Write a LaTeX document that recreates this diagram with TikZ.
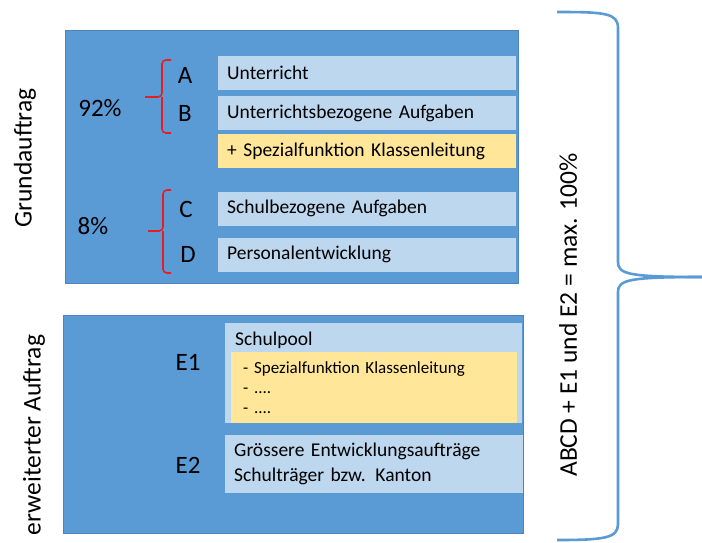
\documentclass[tikz,border=0pt]{standalone}
\usepackage{fontspec}
\setmainfont{Carlito}
\usetikzlibrary{positioning}
\definecolor{dblue}{RGB}{91,155,213}
\definecolor{dedge}{RGB}{80,130,190}
\definecolor{lblue}{RGB}{189,215,238}
\definecolor{ylw}{RGB}{255,230,153}
\definecolor{bred}{RGB}{230,30,35}
\newcommand{\fs}[1]{\fontsize{#1}{#1}\selectfont}

\begin{document}
\begin{tikzpicture}[x=1pt,y=-1pt,
  frame/.style={draw=dedge,fill=dblue,line width=0.6pt},
  item/.style={fill=lblue,anchor=west,minimum width=298,minimum height=34,
    text width=280,inner xsep=9,align=left,font=\fs{19.5}},
  hl/.style={item,fill=ylw},
  big/.style={font=\fs{25}},
  side/.style={rotate=90,font=\fs{25.5}},
  rbrace/.style={draw=bred,line width=1.6pt,rounded corners=4pt},
  bbrace/.style={draw=dblue,line width=2.6pt}]
\useasboundingbox (0,0) rectangle (702,542);
% Grundauftrag
\node[frame,anchor=north west,minimum width=453,minimum height=253,inner sep=0] (grund) at (65,30) {};
\node[item] (a) at (218,72.5) {Unterricht};
\node[item] (b) at (218,113) {Unterrichtsbezogene Aufgaben};
\node[hl] (kl) at (218,151) {+ Spezialfunktion Klassenleitung};
\node[item] (c) at (218,208.5) {Schulbezogene Aufgaben};
\node[item] (d) at (218,254.5) {Personalentwicklung};
\node[big] (la) at (185,75) {A};
\node[big] (lb) at (185,113) {B};
\node[big] (lc) at (186,209) {C};
\node[big] (ld) at (188,254) {D};
\node[big] (p92) at (100,108) {92\%};
\node[big] (p8) at (93,226) {8\%};
\draw[rbrace] (171,60) -| (162,97) -- (145,97);
\draw[rbrace] (171,133) -| (162,97);
\draw[rbrace] (171,190) -| (163,231) -- (148,231);
\draw[rbrace] (171,273) -| (163,231);
\node[side] (lgrund) at (25,158) {Grundauftrag};
% erweiterter Auftrag
\node[frame,anchor=north west,minimum width=460,minimum height=218,inner sep=0] (erw) at (63,315) {};
\node[fill=lblue,anchor=north west,minimum width=297,minimum height=100,inner sep=0] (pool) at (225,323) {};
\node[anchor=west,font=\fs{19.5},inner sep=0] (tpool) at (235,340) {Schulpool};
\node[fill=ylw,anchor=north west,minimum width=286,minimum height=71,text width=262,
  inner xsep=12,inner ysep=6,align=left,font=\fs{17}] (spez) at (231,352)
  {- Spezialfunktion Klassenleitung\\[3pt]- ....\\[3pt]- ....};
\node[item,minimum height=58,text width=280,inner xsep=9] (e2box) at (225,464)
  {Grössere Entwicklungsaufträge\\[5pt]Schulträger bzw. Kanton};
\node[big] (le1) at (188,362) {E1};
\node[big] (le2) at (188,465) {E2};
\node[side] (lerw) at (34,435) {erweiterter Auftrag};
% Klammer rechts
\draw[bbrace] (557,12) .. controls (605,12) and (618,13) .. (618,28) -- (618,262)
  .. controls (618,274) and (628,277) .. (702,277);
\draw[bbrace] (702,277) .. controls (628,277) and (618,280) .. (618,292) -- (618,524)
  .. controls (618,538) and (605,540) .. (557,540);
\node[side] (lsum) at (568,315) {ABCD + E1 und E2 = max. 100\%};
\end{tikzpicture}
\end{document}
